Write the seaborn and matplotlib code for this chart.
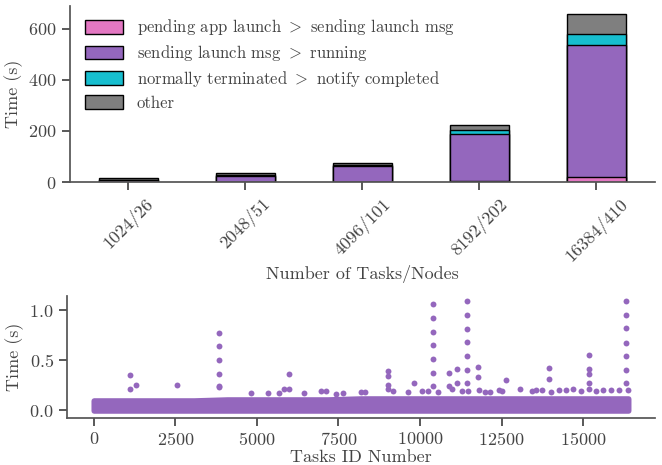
import matplotlib
matplotlib.use("Agg")
import matplotlib.pyplot as plt
from matplotlib.patches import Patch
import numpy as np
import pandas as pd
import seaborn as sns

# ---------------- data ----------------
# stacked bars (seconds)
configs = ["1024/26", "2048/51", "4096/101", "8192/202", "16384/410"]
pending = [0.5, 1, 1, 5, 18]          # pending app launch > sending launch msg
sending = [7, 24, 62, 182, 520]       # sending launch msg > running
notify = [2, 3, 4, 16, 43]            # normally terminated > notify completed
other = [5, 6, 8, 20, 79]

# per-task launch time: dense band envelope (read every 1024 tasks)
band_task = [0, 1024, 2048, 3072, 4096, 5120, 6144, 7168, 8192, 9216,
             10240, 11264, 12288, 13312, 14336, 15360, 16383]
band_low = [0.0] * 17
band_high = [0.10, 0.10, 0.10, 0.10, 0.11, 0.11, 0.11, 0.11, 0.12, 0.12,
             0.12, 0.12, 0.12, 0.12, 0.12, 0.12, 0.12]

# points standing out of the band
out_task = [1110, 1110, 1295, 2550, 3834, 3834, 3834, 3834, 3834, 3834,
            4830, 5355, 5685, 5840, 5995, 5995, 6430, 6970, 7125, 7430,
            7640, 8200, 8300, 9005, 9005, 9005, 9005, 9180, 9640, 9825,
            10075, 10260, 10410, 10410, 10410, 10410, 10410, 10410, 10410,
            10545, 10895, 10895, 10975, 11150, 11150, 11285,
            11440, 11440, 11440, 11440, 11440, 11440, 11440, 11460,
            11770, 11770, 11800, 12005, 12160, 12420, 12520, 12645, 13065,
            13445, 13545, 13750, 13970, 13970, 14020, 14270, 14470, 14700,
            14940, 15170, 15170, 15170, 15170, 15180, 15400, 15610, 15870,
            16100, 16325, 16325, 16325, 16325, 16325, 16325, 16325, 16383]
out_time = [0.35, 0.21, 0.25, 0.25, 0.77, 0.64, 0.50, 0.36, 0.24, 0.23,
            0.17, 0.17, 0.17, 0.21, 0.36, 0.21, 0.17, 0.19, 0.19, 0.16,
            0.17, 0.18, 0.18, 0.39, 0.34, 0.25, 0.21, 0.19, 0.18, 0.27,
            0.19, 0.19, 1.06, 0.92, 0.785, 0.65, 0.51, 0.375, 0.24,
            0.18, 0.375, 0.24, 0.21, 0.41, 0.27, 0.19,
            1.09, 0.95, 0.815, 0.68, 0.545, 0.405, 0.27, 0.19,
            0.43, 0.33, 0.20, 0.18, 0.18, 0.20, 0.19, 0.30, 0.21,
            0.19, 0.20, 0.20, 0.42, 0.31, 0.18, 0.20, 0.20, 0.21,
            0.19, 0.55, 0.415, 0.36, 0.27, 0.21, 0.19, 0.20, 0.20,
            0.20, 1.09, 0.955, 0.82, 0.67, 0.54, 0.405, 0.27, 0.20]

# ---------------- style ----------------
sns.set_theme(style="ticks")
plt.rcParams["font.family"] = "cmr10"
plt.rcParams["mathtext.fontset"] = "cm"
plt.rcParams["axes.unicode_minus"] = False
plt.rcParams["axes.formatter.use_mathtext"] = True
txt = "#444444"
plt.rcParams.update({"text.color": txt, "axes.labelcolor": txt,
                     "xtick.color": txt, "ytick.color": txt,
                     "axes.edgecolor": "#555555"})

c_pend, c_send, c_notif, c_other = "#e377c2", "#9467bd", "#17becf", "#7f7f7f"

fig = plt.figure(figsize=(6.62, 4.65), dpi=100)
ax1 = fig.add_axes([0.1057, 0.6086, 0.8837, 0.3785])
ax2 = fig.add_axes([0.1012, 0.1011, 0.888, 0.2624])

# ---------------- stacked bars ----------------
bars = pd.DataFrame({"config": configs, "pending": pending, "sending": sending,
                     "notify": notify, "other": other})
bars["c1"] = bars["pending"]
bars["c2"] = bars["c1"] + bars["sending"]
bars["c3"] = bars["c2"] + bars["notify"]
bars["c4"] = bars["c3"] + bars["other"]

# draw cumulative totals tallest first so they look stacked
for col, color in [("c4", c_other), ("c3", c_notif), ("c2", c_send), ("c1", c_pend)]:
    sns.barplot(data=bars, x="config", y=col, color=color, saturation=1,
                width=0.5, edgecolor="black", linewidth=1, ax=ax1)

ax1.set_xlabel("Number of Tasks/Nodes", fontsize=13, labelpad=0)
ax1.set_ylabel("Time (s)", fontsize=13)
ax1.set_yticks([0, 200, 400, 600])
ax1.set_ylim(0, 690)
ax1.tick_params(labelsize=13)
plt.setp(ax1.get_xticklabels(), rotation=45)

handles = [Patch(facecolor=c_pend, edgecolor="black"),
           Patch(facecolor=c_send, edgecolor="black"),
           Patch(facecolor=c_notif, edgecolor="black"),
           Patch(facecolor=c_other, edgecolor="black")]
labels = ["pending app launch ${>}$ sending launch msg",
          "sending launch msg ${>}$ running",
          "normally terminated ${>}$ notify completed",
          "other"]
ax1.legend(handles, labels, loc="upper left", frameon=False, fontsize=12,
           handlelength=2.3, handleheight=0.9, labelspacing=0.35,
           bbox_to_anchor=(0.0, 1.02))

# ---------------- per-task scatter ----------------
ax2.fill_between(band_task, band_low, band_high, color=c_send,
                 linewidth=4, edgecolor=c_send)
pts = pd.DataFrame({"task": out_task, "time": out_time})
sns.scatterplot(data=pts, x="task", y="time", color=c_send, s=18,
                linewidth=0, ax=ax2)
ax2.set_xlim(-820, 17200)
ax2.set_ylim(-0.075, 1.145)
ax2.set_xticks([0, 2500, 5000, 7500, 10000, 12500, 15000])
ax2.set_yticks([0.0, 0.5, 1.0])
ax2.set_xlabel("Tasks ID Number", fontsize=13, labelpad=1)
ax2.set_ylabel("Time (s)", fontsize=13)
ax2.tick_params(labelsize=13)

sns.despine(fig=fig)

plt.savefig("out.png", dpi=100)
